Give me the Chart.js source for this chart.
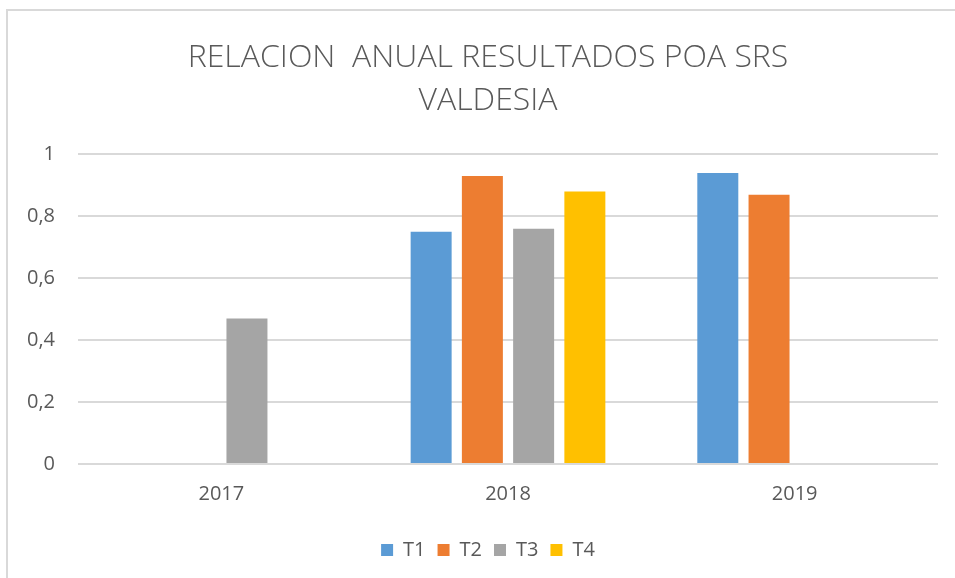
<!DOCTYPE html>
<html lang="es">
<head>
    <meta charset="UTF-8">
    <title>Relacion anual resultados POA SRS Valdesia</title>
    <script src="https://cdn.jsdelivr.net/npm/chart.js"></script>
    <style>
        html, body { margin: 0; padding: 0; background: #fff; }
        #wrap { position: relative; width: 955px; height: 578px; overflow: hidden; }
        #frame {
            position: absolute; left: 6px; top: 9px; width: 1000px; height: 600px;
            border-left: 2px solid #d9d9d9; border-top: 2px solid #d9d9d9;
        }
        canvas { position: absolute; left: 0; top: 0; }
    </style>
</head>
<body>
    <div id="wrap">
        <div id="frame"></div>
        <canvas id="chart" width="955" height="578"></canvas>
    </div>
    <script>
        const years = ['2017', '2018', '2019'];
        const t1 = [null, 0.75, 0.94];
        const t2 = [null, 0.93, 0.87];
        const t3 = [0.47, 0.76, null];
        const t4 = [null, 0.88, null];
        const titleLines = ['RELACION  ANUAL RESULTADOS POA SRS', 'VALDESIA'];

        const font = "'Open Sans', sans-serif";
        const textColor = '#595959';

        new Chart(document.getElementById('chart'), {
            type: 'bar',
            data: {
                labels: years,
                datasets: [
                    { label: 'T1', data: t1, backgroundColor: '#5b9bd5' },
                    { label: 'T2', data: t2, backgroundColor: '#ed7d31' },
                    { label: 'T3', data: t3, backgroundColor: '#a5a5a5' },
                    { label: 'T4', data: t4, backgroundColor: '#ffc000' }
                ]
            },
            options: {
                responsive: false,
                animation: false,
                categoryPercentage: 0.715,
                barPercentage: 0.8,
                layout: { padding: { left: 21, right: 0, top: 36, bottom: 8 } },
                plugins: {
                    title: {
                        display: true,
                        text: titleLines,
                        color: textColor,
                        font: { family: font, size: 32, weight: '300', lineHeight: 1.35 },
                        padding: { top: 0, bottom: 32 }
                    },
                    legend: {
                        position: 'bottom',
                        labels: {
                            color: textColor,
                            font: { family: font, size: 20 },
                            boxWidth: 12,
                            boxHeight: 12,
                            padding: 12
                        }
                    },
                    tooltip: { enabled: false }
                },
                scales: {
                    x: {
                        afterFit: s => { s.height = 64; },
                        grid: { display: false },
                        border: { display: false },
                        ticks: { color: textColor, font: { family: font, size: 20 }, padding: 10 }
                    },
                    y: {
                        min: 0,
                        max: 1,
                        afterFit: s => { s.width = 57; },
                        ticks: {
                            stepSize: 0.2,
                            color: textColor,
                            font: { family: font, size: 20 },
                            padding: 23,
                            callback: v => String(Math.round(v * 10) / 10).replace('.', ',')
                        },
                        grid: { color: '#d9d9d9', lineWidth: 2, drawTicks: false },
                        border: { display: false }
                    },
                    // empty right-hand margin so the title stays centred on the frame
                    yRight: {
                        position: 'right',
                        afterFit: s => { s.width = 17; },
                        ticks: { display: false },
                        grid: { display: false },
                        border: { display: false }
                    }
                }
            }
        });
    </script>
</body>
</html>
